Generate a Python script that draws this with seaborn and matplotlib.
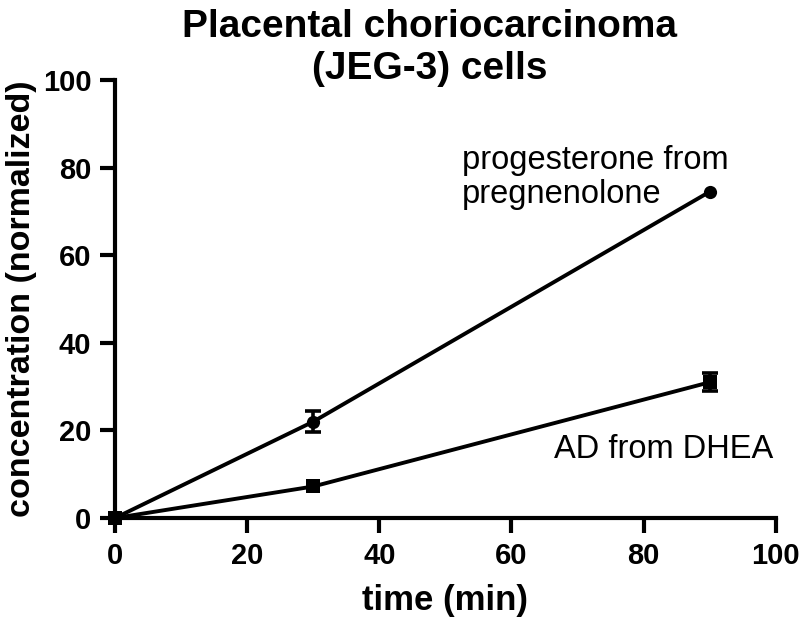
import matplotlib
matplotlib.use("Agg")
import matplotlib.pyplot as plt
import seaborn as sns
import pandas as pd

time_min = [0, 30, 90]
progesterone = [0, 22.0, 74.5]
progesterone_err = [0, 2.4, 0.3]
ad = [0, 7.2, 31.0]
ad_err = [0, 0.4, 2.0]

sns.set_style("ticks")
plt.rcParams["font.family"] = ["Liberation Sans", "DejaVu Sans"]

df = pd.DataFrame(
    {
        "time": time_min * 2,
        "conc": progesterone + ad,
        "err": progesterone_err + ad_err,
        "series": ["prog"] * 3 + ["ad"] * 3,
    }
)

fig = plt.figure(figsize=(8, 6.23), dpi=100)
ax = fig.add_axes([0.14375, 0.1685, 0.826, 0.703])

sns.lineplot(
    ax=ax,
    data=df,
    x="time",
    y="conc",
    hue="series",
    style="series",
    markers={"prog": "o", "ad": "s"},
    dashes=False,
    palette={"prog": "black", "ad": "black"},
    linewidth=2.8,
    markersize=9.5,
    markeredgewidth=0,
    legend=False,
    clip_on=False,
    zorder=3,
)
# bars shorter than the symbol are hidden behind it
bars = df[df["err"] >= 1]
ax.errorbar(
    bars["time"],
    bars["conc"],
    yerr=bars["err"],
    fmt="none",
    ecolor="black",
    elinewidth=2.6,
    capsize=6,
    capthick=2.6,
    clip_on=False,
    zorder=3,
)

ax.text(52.5, 79.7, "progesterone from", fontsize=23.5, color="black")
ax.text(52.5, 71.9, "pregnenolone", fontsize=23.5, color="black")
ax.text(66.5, 13.7, "AD from DHEA", fontsize=23.5, color="black")

ax.set_xlim(0, 100)
ax.set_ylim(0, 100)
ax.set_xticks([0, 20, 40, 60, 80, 100])
ax.set_yticks([0, 20, 40, 60, 80, 100])
ax.set_xlabel("time (min)", fontsize=25, fontweight="bold", labelpad=10, color="black")
ax.set_ylabel(
    "concentration (normalized)", fontsize=24.5, fontweight="bold", labelpad=4, color="black"
)
# title: va="baseline" anchors the last line's baseline
ax.text(
    0.4766,
    1.003,
    "Placental choriocarcinoma\n(JEG-3) cells",
    transform=ax.transAxes,
    ha="center",
    va="baseline",
    fontsize=28,
    fontweight="bold",
    linespacing=1.2,
    color="black",
)
ax.tick_params(width=3, length=11, labelsize=21, direction="out", colors="black", pad=6)
for lab in ax.get_xticklabels() + ax.get_yticklabels():
    lab.set_fontweight("bold")
for side in ["left", "bottom"]:
    ax.spines[side].set_linewidth(3)
    ax.spines[side].set_color("black")
sns.despine(ax=ax)

fig.savefig("out.png", dpi=100)
